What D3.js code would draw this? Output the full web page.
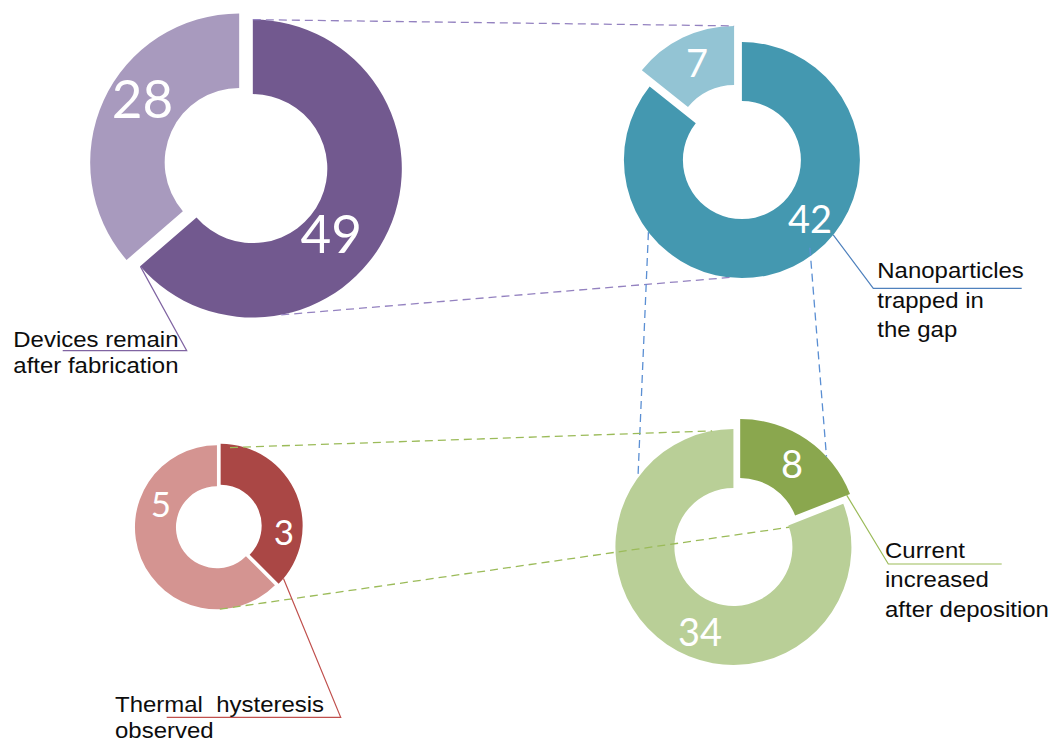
<!DOCTYPE html>
<html>
<head>
<meta charset="utf-8">
<script src="https://cdn.jsdelivr.net/npm/d3@7"></script>
<style>
  html, body { margin: 0; padding: 0; background: #ffffff; }
  svg { display: block; }
</style>
</head>
<body>
<svg id="chart" width="1054" height="744"></svg>
<script>
// Slice values for each doughnut (first value = dark slice, drawn clockwise from 12 o'clock)
const devicesValues = [49, 28];
const trappedValues = [42, 7];
const currentValues = [8, 34];
const hysteresisValues = [3, 5];

// Callout captions, one line per entry
const devicesCaption = ["Devices remain", "after fabrication"];
const trappedCaption = ["Nanoparticles", "trapped in", "the gap"];
const currentCaption = ["Current", "increased", "after deposition"];
const hysteresisCaption = ["Thermal  hysteresis", "observed"];

// Ring geometry and styling
const rings = [
  { values: devicesValues, cx: 246, cy: 165.5, R: 149, explode: 7.5,
    colors: ["#72598f", "#a89abe"], fontSize: 53,
    labelAt: [[129.7, 102], [303.3, 115.6]] },
  { values: trappedValues, cx: 738, cy: 152, R: 118, explode: 9,
    colors: ["#4498b0", "#93c4d4"], fontSize: 38,
    labelAt: [[130.9, 90], [335.4, 89]] },
  { values: currentValues, cx: 736.8, cy: 542, R: 118, explode: 6,
    colors: ["#8aa74e", "#b9cf97"], fontSize: 38,
    labelAt: [[35.4, 89.5], [201.5, 91.3]] },
  { values: hysteresisValues, cx: 218.8, cy: 526.5, R: 82, explode: 2,
    colors: ["#aa4745", "#d49491"], fontSize: 35,
    labelAt: [[96.1, 63.7], [292.2, 60.5]] }
];

const pie = d3.pie().sort(null).value(d => d);
const rad = deg => deg * Math.PI / 180;

rings.forEach(r => {
  r.r = r.R * 0.5;
  r.arcs = pie(r.values);
  r.arcs.forEach(a => {
    const m = (a.startAngle + a.endAngle) / 2;
    a.ox = r.cx + r.explode * Math.sin(m);
    a.oy = r.cy - r.explode * Math.cos(m);
  });
});

// Point on a slice (angle in degrees clockwise from top, radius as fraction of outer radius)
function ringPoint(ri, si, angleDeg, frac) {
  const r = rings[ri], a = r.arcs[si];
  const t = rad(angleDeg);
  return [a.ox + r.R * frac * Math.sin(t), a.oy - r.R * frac * Math.cos(t)];
}

const svg = d3.select("#chart");

// Doughnuts
rings.forEach(r => {
  const arc = d3.arc().innerRadius(r.r).outerRadius(r.R);
  svg.append("g").selectAll("path")
    .data(r.arcs)
    .join("path")
    .attr("transform", a => `translate(${a.ox},${a.oy})`)
    .attr("d", arc)
    .attr("fill", (a, i) => r.colors[i]);
});

// Dashed links between doughnuts
const links = [
  { from: [0, 0, 0, 1], to: [1, 1, 360, 1], color: "#9482c0" },
  { from: [0, 0, 169, 1], to: [1, 0, 186, 1], color: "#9482c0" },
  { from: [1, 0, 232.4, 1], to: [2, 1, 306, 1], color: "#5b8fd3" },
  { from: [1, 0, 142.2, 0.94], to: [2, 0, 47, 1], color: "#5b8fd3" },
  { from: [3, 0, 6.8, 0.96], to: [2, 1, 349.6, 1], color: "#9bbb59" },
  { from: [3, 1, 178, 1], to: [2, 1, 70.5, 0.5], color: "#9bbb59" }
];

svg.append("g").selectAll("line")
  .data(links)
  .join("line")
  .each(function(l) {
    const p = ringPoint(...l.from), q = ringPoint(...l.to);
    d3.select(this).attr("x1", p[0]).attr("y1", p[1]).attr("x2", q[0]).attr("y2", q[1]);
  })
  .attr("stroke", l => l.color)
  .attr("stroke-width", 1.3)
  .attr("stroke-dasharray", "8,5")
  .attr("fill", "none");

// Callouts: leader line, underline and caption
const callouts = [
  { at: [0, 0, 229, 1], elbow: [186.7, 350.7], lineTo: 62.7, color: "#8064a2",
    lines: devicesCaption, tx: 13.3, ty: 346.7, lh: 26.7 },
  { at: [1, 0, 129.3, 1], elbow: [873.3, 288.3], lineTo: 1021.7, color: "#4f81bd",
    lines: trappedCaption, tx: 877.3, ty: 278.3, lh: 29.5 },
  { at: [2, 0, 68.5, 0.97], elbow: [888.3, 564], lineTo: 1001.7, color: "#9bbb59",
    lines: currentCaption, tx: 885, ty: 558.3, lh: 29.2 },
  { at: [3, 0, 130, 1], elbow: [340.7, 717.3], lineTo: 166.7, color: "#c0504d",
    lines: hysteresisCaption, tx: 115, ty: 711.7, lh: 26.7 }
];

const cg = svg.append("g");
callouts.forEach(c => {
  const p = ringPoint(...c.at);
  cg.append("path")
    .attr("d", d3.line()([p, c.elbow, [c.lineTo, c.elbow[1]]]))
    .attr("fill", "none")
    .attr("stroke", c.color)
    .attr("stroke-width", 1.2);
  const tg = cg.append("g").attr("transform", `translate(${c.tx},${c.ty}) scale(1.12,1)`);
  tg.selectAll("text")
    .data(c.lines)
    .join("text")
    .attr("x", 0)
    .attr("y", (d, i) => i * c.lh)
    .style("white-space", "pre")
    .attr("font-family", "'Liberation Sans', Arial, sans-serif")
    .attr("font-size", 21.4)
    .attr("fill", "#0d0d0d")
    .text(d => d);
});

// Value labels on the slices
rings.forEach(r => {
  svg.append("g").selectAll("text")
    .data(r.arcs)
    .join("text")
    .attr("x", (a, i) => a.ox + r.labelAt[i][1] * Math.sin(rad(r.labelAt[i][0])))
    .attr("y", (a, i) => a.oy - r.labelAt[i][1] * Math.cos(rad(r.labelAt[i][0])))
    .attr("dy", "0.36em")
    .attr("text-anchor", "middle")
    .attr("font-family", "Lato, 'Open Sans', sans-serif")
    .attr("font-size", r.fontSize)
    .attr("fill", "#ffffff")
    .text(a => a.data);
});
</script>
</body>
</html>
